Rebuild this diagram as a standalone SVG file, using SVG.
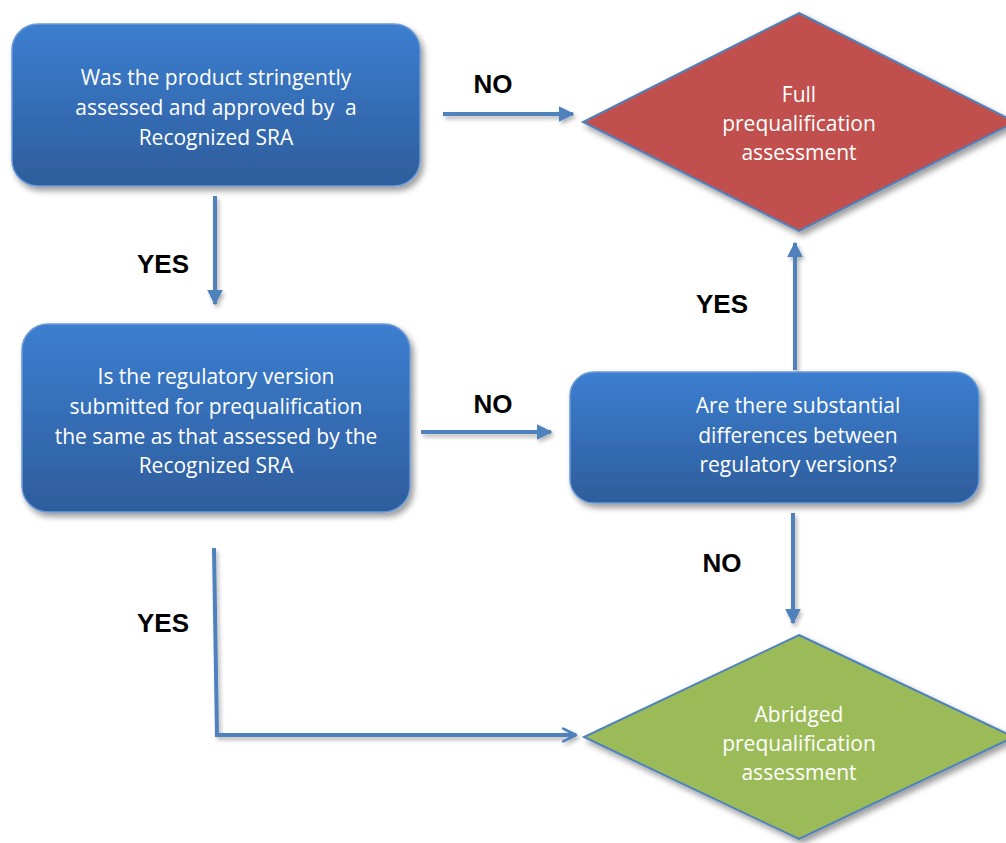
<svg xmlns="http://www.w3.org/2000/svg" width="1006" height="843" viewBox="0 0 1006 843">
<defs>
<linearGradient id="boxg" x1="0" y1="0" x2="0" y2="1">
<stop offset="0" stop-color="#3C7ED0"/>
<stop offset="1" stop-color="#2E5D9C"/>
</linearGradient>
<filter id="sh" x="-10%" y="-10%" width="125%" height="130%">
<feGaussianBlur in="SourceAlpha" stdDeviation="3"/>
<feOffset dx="3" dy="4" result="b"/>
<feComponentTransfer><feFuncA type="linear" slope="0.4"/></feComponentTransfer>
<feMerge><feMergeNode/><feMergeNode in="SourceGraphic"/></feMerge>
</filter>
<filter id="lsh" filterUnits="userSpaceOnUse" x="0" y="0" width="1006" height="843">
<feGaussianBlur in="SourceAlpha" stdDeviation="2"/>
<feOffset dx="2" dy="3" result="b"/>
<feComponentTransfer><feFuncA type="linear" slope="0.3"/></feComponentTransfer>
<feMerge><feMergeNode/><feMergeNode in="SourceGraphic"/></feMerge>
</filter>
<marker id="tri" viewBox="0 0 10 10" refX="9" refY="5" markerWidth="4" markerHeight="4" orient="auto" markerUnits="strokeWidth">
<path d="M0,0 L10,5 L0,10 Z" fill="#4F81BD"/>
</marker>
<marker id="chev" viewBox="0 0 10 10" refX="9" refY="5" markerWidth="4" markerHeight="4" orient="auto" markerUnits="strokeWidth">
<path d="M1,1 L9,5 L1,9" fill="none" stroke="#4F81BD" stroke-width="1.6" stroke-linecap="round" stroke-linejoin="round"/>
</marker>
</defs>
<style>
.box{fill:url(#boxg);stroke:#6A9BD8;stroke-width:1.5;filter:url(#sh)}
.dia{stroke:#4F81BD;stroke-width:2;filter:url(#sh)}
.nt{font-family:"Open Sans","Liberation Sans",sans-serif;font-size:21px;fill:#FFFFFF;text-anchor:middle;white-space:pre}
.lbl{font-family:"Liberation Sans",Arial,sans-serif;font-size:26px;font-weight:bold;fill:#000000;text-anchor:middle}
.con{fill:none;stroke:#4F81BD;stroke-width:4}
</style>
<rect width="1006" height="843" fill="#FFFFFF"/>
<g id="connectors" filter="url(#lsh)">
<line class="con" x1="443" y1="114" x2="573" y2="114" marker-end="url(#tri)"/>
<line class="con" x1="215" y1="196" x2="215" y2="304" marker-end="url(#tri)"/>
<line class="con" x1="421" y1="432" x2="551" y2="432" marker-end="url(#tri)"/>
<line class="con" x1="795" y1="370" x2="795" y2="243" marker-end="url(#tri)"/>
<line class="con" x1="793" y1="513" x2="793" y2="623" marker-end="url(#tri)"/>
<polyline class="con" points="214,548 217,735 576,735" marker-end="url(#chev)"/>
</g>
<g id="labels">
<text class="lbl" x="493" y="93">NO</text>
<text class="lbl" x="163" y="273">YES</text>
<text class="lbl" x="493" y="413">NO</text>
<text class="lbl" x="722" y="313">YES</text>
<text class="lbl" x="722" y="572">NO</text>
<text class="lbl" x="163" y="632">YES</text>
</g>
<g id="q1">
<rect class="box" x="12" y="24" width="408" height="162" rx="26"/>
<text class="nt" x="216" y="85">Was the product stringently</text>
<text class="nt" x="216" y="115" xml:space="preserve">assessed and approved by  a</text>
<text class="nt" x="216" y="145">Recognized SRA</text>
</g>
<g id="q2">
<rect class="box" x="22" y="324" width="388" height="188" rx="26"/>
<text class="nt" x="216" y="384">Is the regulatory version</text>
<text class="nt" x="216" y="414">submitted for prequalification</text>
<text class="nt" x="216" y="444">the same as that assessed by the</text>
<text class="nt" x="216" y="473">Recognized SRA</text>
</g>
<g id="q3">
<rect class="box" x="570" y="372" width="409" height="131" rx="24"/>
<text class="nt" x="798" y="413">Are there substantial</text>
<text class="nt" x="798" y="443">differences between</text>
<text class="nt" x="798" y="472">regulatory versions?</text>
</g>
<g id="full">
<polygon class="dia" fill="#C0504D" points="799,13 1015,122 799,231 583,122"/>
<text class="nt" x="799" y="102">Full</text>
<text class="nt" x="799" y="131">prequalification</text>
<text class="nt" x="799" y="160">assessment</text>
</g>
<g id="abridged">
<polygon class="dia" fill="#9BBB59" points="799,635 1014,737 799,839 584,737"/>
<text class="nt" x="799" y="722">Abridged</text>
<text class="nt" x="799" y="751">prequalification</text>
<text class="nt" x="799" y="780">assessment</text>
</g>
</svg>
